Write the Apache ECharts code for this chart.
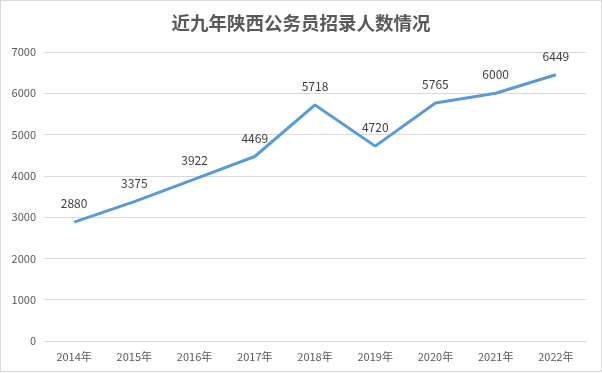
<!DOCTYPE html>
<html><head><meta charset="utf-8">
<script src="https://cdn.jsdelivr.net/npm/echarts@6/dist/echarts.min.js"></script>
<style>html,body{margin:0;padding:0;background:#fff}#c{position:absolute;left:0;top:0;width:600px;height:370px;border:1px solid #d9d9d9}</style>
</head><body><div id="c"></div>
<script>
const title = '近九年陕西公务员招录人数情况';
const categories = ['2014年','2015年','2016年','2017年','2018年','2019年','2020年','2021年','2022年'];
const values = [2880,3375,3922,4469,5718,4720,5765,6000,6449];
const chart = echarts.init(document.getElementById('c'));
chart.setOption({
  animation:false,
  title:{text:title,left:'center',top:8,textStyle:{fontSize:18.5,fontWeight:'bold',color:'#595959',fontFamily:'Noto Sans CJK SC'}},
  grid:{left:43,right:15,top:51,bottom:30},
  xAxis:{type:'category',data:categories,boundaryGap:true,
    axisLine:{lineStyle:{color:'#d9d9d9'}},axisTick:{show:false},
    axisLabel:{color:'#595959',fontSize:11,margin:10,fontFamily:'Noto Sans CJK SC'}},
  yAxis:{type:'value',min:0,max:7000,interval:1000,
    axisLine:{show:false},axisTick:{show:false},
    splitLine:{lineStyle:{color:'#d9d9d9'}},
    axisLabel:{color:'#595959',fontSize:11,margin:8,fontFamily:'Noto Sans CJK SC',formatter:v=>String(v)}},
  series:[{type:'line',data:values,symbol:'circle',symbolSize:1,showSymbol:true,
    itemStyle:{color:'rgba(91,155,213,0)',borderWidth:0},
    lineStyle:{color:'#5b9bd5',width:3},
    label:{show:true,position:'top',distance:12,color:'#404040',fontSize:12,fontFamily:'Noto Sans CJK SC'}}]
});
</script></body></html>
